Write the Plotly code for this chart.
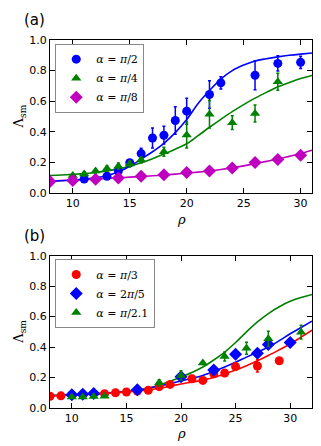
import plotly.graph_objects as go
from plotly.subplots import make_subplots

# ---- panel (a) data ----
a_blue_x = [11, 13, 14, 15, 16, 17, 18, 19, 20, 22, 23, 26, 28, 30]
a_blue_y = [0.092, 0.11, 0.144, 0.198, 0.258, 0.36, 0.378, 0.474, 0.535, 0.644, 0.72, 0.77, 0.847, 0.854]
a_blue_e = [0.01, 0.01, 0.012, 0.02, 0.035, 0.065, 0.058, 0.09, 0.085, 0.09, 0.04, 0.095, 0.05, 0.04]

a_green_x = [10, 11, 12, 13, 14, 15, 16, 18, 20, 22, 24, 26, 28]
a_green_y = [0.115, 0.125, 0.144, 0.16, 0.176, 0.19, 0.216, 0.27, 0.38, 0.515, 0.46, 0.52, 0.727]
a_green_e = [0.01, 0.015, 0.015, 0.018, 0.02, 0.02, 0.02, 0.03, 0.085, 0.09, 0.045, 0.055, 0.055]

a_mag_x = [8, 10, 12, 14, 16, 18, 20, 22, 24, 26, 28, 30]
a_mag_y = [0.075, 0.083, 0.09, 0.098, 0.11, 0.119, 0.134, 0.145, 0.164, 0.199, 0.22, 0.247]
a_mag_e = [0.008, 0.008, 0.008, 0.008, 0.008, 0.01, 0.012, 0.012, 0.015, 0.018, 0.02, 0.02]

# fitted curves
a_fit_x = list(range(8, 32))
a_fit_blue = [0.078, 0.081, 0.085, 0.09, 0.1, 0.115, 0.138, 0.175, 0.222, 0.27, 0.325, 0.395,
              0.48, 0.585, 0.67, 0.745, 0.8, 0.836, 0.863, 0.878, 0.89, 0.9, 0.908, 0.915]
a_fit_green = [0.115, 0.118, 0.122, 0.127, 0.135, 0.145, 0.158, 0.175, 0.198, 0.225, 0.255, 0.287,
               0.322, 0.375, 0.43, 0.482, 0.532, 0.578, 0.62, 0.658, 0.694, 0.722, 0.748, 0.768]
a_fit_mag = [0.08, 0.082, 0.085, 0.088, 0.092, 0.096, 0.1, 0.104, 0.108, 0.113, 0.118, 0.124,
             0.13, 0.137, 0.145, 0.154, 0.165, 0.178, 0.193, 0.207, 0.222, 0.24, 0.258, 0.28]

# ---- panel (b) data ----
b_red_x = [8, 9, 13, 14, 15, 16, 17, 18, 19, 21, 22, 23, 24, 25, 27, 29]
b_red_y = [0.077, 0.08, 0.094, 0.1, 0.105, 0.111, 0.116, 0.14, 0.155, 0.192, 0.181, 0.225, 0.229, 0.272, 0.276, 0.31]
b_red_e = [0.005, 0.005, 0.005, 0.005, 0.006, 0.006, 0.006, 0.01, 0.01, 0.012, 0.012, 0.015, 0.02, 0.02, 0.04, 0.02]

b_blue_x = [10, 11, 12, 16, 20, 23, 25, 27, 28, 30]
b_blue_y = [0.087, 0.09, 0.096, 0.12, 0.205, 0.25, 0.352, 0.36, 0.416, 0.43]
b_blue_e = [0.005, 0.005, 0.006, 0.01, 0.02, 0.02, 0.02, 0.025, 0.02, 0.02]

b_green_x = [10, 11, 12, 13, 18, 20, 22, 24, 26, 28, 31]
b_green_y = [0.072, 0.073, 0.076, 0.077, 0.165, 0.214, 0.295, 0.338, 0.392, 0.454, 0.498]
b_green_e = [0.005, 0.005, 0.005, 0.005, 0.02, 0.03, 0.01, 0.03, 0.04, 0.05, 0.045]

b_fit_x = list(range(8, 33))
b_fit_red = [0.08, 0.082, 0.085, 0.088, 0.092, 0.096, 0.1, 0.106, 0.112, 0.12, 0.13, 0.143,
             0.158, 0.17, 0.183, 0.2, 0.223, 0.249, 0.278, 0.31, 0.345, 0.382, 0.42, 0.465, 0.51]
b_fit_blue = [0.082, 0.084, 0.087, 0.09, 0.093, 0.097, 0.102, 0.108, 0.117, 0.13, 0.145, 0.16,
              0.177, 0.195, 0.214, 0.24, 0.269, 0.3, 0.334, 0.367, 0.4, 0.442, 0.487, 0.528, 0.57]
b_fit_green = [0.083, 0.085, 0.088, 0.09, 0.093, 0.096, 0.1, 0.107, 0.115, 0.13, 0.15, 0.175,
               0.203, 0.233, 0.269, 0.315, 0.367, 0.43, 0.5, 0.565, 0.62, 0.665, 0.7, 0.725, 0.745]

BLUE = "#0000ff"
GREEN = "#008000"
MAG = "#bf00bf"
RED = "#ff0000"

fig = make_subplots(rows=2, cols=1)


def points(x, y, e, color, symbol, size, name, row, legend):
    fig.add_trace(go.Scatter(
        x=x, y=y, mode="markers", name=name, legend=legend,
        marker=dict(color=color, symbol=symbol, size=size, line=dict(width=0)),
        error_y=dict(type="data", array=e, color=color, thickness=1.5, width=1.5),
    ), row=row, col=1)


def curve(x, y, color, row):
    fig.add_trace(go.Scatter(
        x=x, y=y, mode="lines", line=dict(color=color, width=1.6, shape="spline"),
        showlegend=False, hoverinfo="skip",
    ), row=row, col=1)


# panel (a)
curve(a_fit_x, a_fit_mag, MAG, 1)
curve(a_fit_x, a_fit_green, GREEN, 1)
curve(a_fit_x, a_fit_blue, BLUE, 1)
points(a_blue_x, a_blue_y, a_blue_e, BLUE, "circle", 9, "<i>α</i> = <i>π</i>/2", 1, "legend")
points(a_green_x, a_green_y, a_green_e, GREEN, "triangle-up", 9, "<i>α</i> = <i>π</i>/4", 1, "legend")
points(a_mag_x, a_mag_y, a_mag_e, MAG, "diamond", 10, "<i>α</i> = <i>π</i>/8", 1, "legend")

# panel (b)
curve(b_fit_x, b_fit_green, GREEN, 2)
curve(b_fit_x, b_fit_blue, BLUE, 2)
curve(b_fit_x, b_fit_red, RED, 2)
points(b_red_x, b_red_y, b_red_e, RED, "circle", 9, "<i>α</i> = <i>π</i>/3", 2, "legend2")
points(b_blue_x, b_blue_y, b_blue_e, BLUE, "diamond", 10, "<i>α</i> = 2<i>π</i>/5", 2, "legend2")
points(b_green_x, b_green_y, b_green_e, GREEN, "triangle-up", 9, "<i>α</i> = <i>π</i>/2.1", 2, "legend2")

axis_style = dict(
    showline=True, linecolor="black", linewidth=1.2, mirror="allticks",
    ticks="inside", ticklen=5, tickcolor="black", tickwidth=1,
    showgrid=False, zeroline=False, automargin=False,
    tickfont=dict(family="DejaVu Sans", size=11, color="black"),
)

fig.update_xaxes(**axis_style, tickvals=[10, 15, 20, 25, 30])
fig.update_yaxes(**axis_style, range=[0, 1], tickvals=[0, 0.2, 0.4, 0.6, 0.8, 1.0], tickformat=".1f")
fig.update_xaxes(range=[8, 31], row=1, col=1)
fig.update_xaxes(range=[8, 32], row=2, col=1)

legend_style = dict(
    bgcolor="white", bordercolor="#888888", borderwidth=1,
    font=dict(family="DejaVu Serif", size=11, color="black"),
    xanchor="left", yanchor="top", tracegroupgap=0, itemwidth=30,
)

txt = dict(color="black")
anchor = dict(xref="paper", yref="paper", xanchor="center", yanchor="middle", showarrow=False)
annotations = []
# panel labels, axis titles (placed by paper coordinates)
for label, ly, rho_y, lam_y in [("(a)", 1.054, 0.512, 0.792), ("(b)", 0.467, -0.068, 0.207)]:
    annotations.append(dict(text=label, x=-0.06, y=ly, **anchor,
                            font=dict(family="DejaVu Sans", size=15, **txt)))
    annotations.append(dict(text="<i>ρ</i>", x=0.5, y=rho_y, **anchor,
                            font=dict(family="DejaVu Serif", size=13, **txt)))
    annotations.append(dict(text="Λ<sub>sm</sub>", x=-0.115, y=lam_y, textangle=-90, **anchor,
                            font=dict(family="DejaVu Serif", size=13, **txt)))

# the page body adds an 8 px offset, so the figure is 8 px smaller each way
fig.update_layout(
    template="none",
    width=313, height=438,
    margin=dict(l=42, r=9, t=32, b=38),
    plot_bgcolor="white", paper_bgcolor="white",
    xaxis=dict(domain=[0, 1]),
    yaxis=dict(domain=[0.584, 1]),
    xaxis2=dict(domain=[0, 1]),
    yaxis2=dict(domain=[0, 0.414]),
    legend=dict(**legend_style, x=0.02, y=0.99),
    legend2=dict(**legend_style, x=0.02, y=0.405),
    annotations=annotations,
)

fig.write_html("out.html")
